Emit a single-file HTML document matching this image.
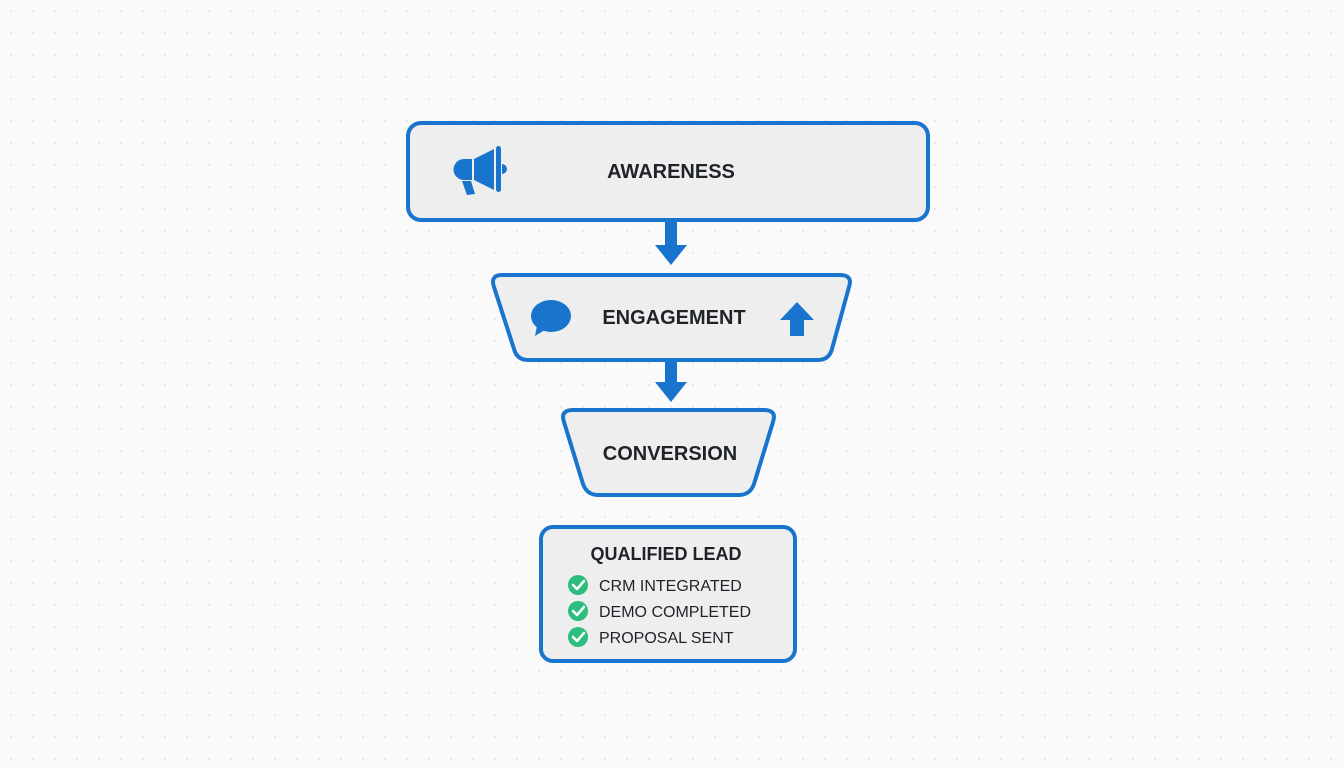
<!DOCTYPE html>
<html><head><meta charset="utf-8"><style>
html,body{margin:0;padding:0;background:#fafafa;}
svg{display:block}
text{font-family:"Liberation Sans",sans-serif;fill:#1f2329}
</style></head><body>
<svg width="1344" height="768" viewBox="0 0 1344 768" xmlns="http://www.w3.org/2000/svg">
<defs>
<pattern id="dots" width="22" height="22" patternUnits="userSpaceOnUse">
<circle cx="11" cy="11" r="1" fill="#e2e2e2"/>
</pattern>
</defs>
<rect width="1344" height="768" fill="#fafafa"/>
<rect width="1344" height="768" fill="url(#dots)"/>

<!-- Awareness -->
<rect x="408" y="123" width="520" height="97" rx="13" fill="#eeeeee" stroke="#1874cd" stroke-width="4"/>
<g fill="#1874cd">
<path d="M464 159 L472 159 L472 180 L464 180 A10.5 10.5 0 0 1 464 159Z"/>
<path d="M474 159 L494 149 L494 190 L474 180Z"/>
<rect x="496" y="146" width="5" height="46" rx="2.5"/>
<path d="M502 164 A5 5 0 0 1 502 174Z"/>
<path d="M462 181 L471 181 L475 194 L467 195Z"/>
</g>
<text x="671" y="178" font-size="20" font-weight="bold" text-anchor="middle">AWARENESS</text>

<!-- Arrow 1 -->
<rect x="665" y="220" width="12" height="26" fill="#1874cd"/>
<path d="M655 245 L687 245 L671 265Z" fill="#1874cd"/>

<!-- Engagement -->
<path d="M502 275 L840 275 Q853 275 849 287 L832 349 Q829 360 818 360 L528 360 Q517 360 514 349 L494 287 Q490 275 502 275Z" fill="#eeeeee" stroke="#1874cd" stroke-width="4"/>
<g fill="#1874cd">
<ellipse cx="551" cy="316" rx="20" ry="16"/>
<path d="M537 326 L535 336 L548 328Z"/>
<path d="M797 302 L814 320 L804 320 L804 336 L790 336 L790 320 L780 320Z"/>
</g>
<text x="674" y="324" font-size="20" font-weight="bold" text-anchor="middle">ENGAGEMENT</text>

<!-- Arrow 2 -->
<rect x="665" y="361" width="12" height="22" fill="#1874cd"/>
<path d="M655 382 L687 382 L671 402Z" fill="#1874cd"/>

<!-- Conversion -->
<path d="M573 410 L764 410 Q777 410 773 422 L754 484 Q750 495 739 495 L598 495 Q587 495 583 484 L564 422 Q560 410 573 410Z" fill="#eeeeee" stroke="#1874cd" stroke-width="4"/>
<text x="670" y="460" font-size="20" font-weight="bold" text-anchor="middle">CONVERSION</text>

<!-- Qualified Lead -->
<rect x="541" y="527" width="254" height="134" rx="12" fill="#eeeeee" stroke="#1874cd" stroke-width="4"/>
<text x="666" y="560" font-size="18" font-weight="bold" text-anchor="middle">QUALIFIED LEAD</text>
<g>
<circle cx="578" cy="585" r="10" fill="#2dbd7e"/>
<path d="M573 585 L577 589 L584 581" stroke="#fff" stroke-width="2.5" fill="none" stroke-linecap="round" stroke-linejoin="round"/>
<circle cx="578" cy="611" r="10" fill="#2dbd7e"/>
<path d="M573 611 L577 615 L584 607" stroke="#fff" stroke-width="2.5" fill="none" stroke-linecap="round" stroke-linejoin="round"/>
<circle cx="578" cy="637" r="10" fill="#2dbd7e"/>
<path d="M573 637 L577 641 L584 633" stroke="#fff" stroke-width="2.5" fill="none" stroke-linecap="round" stroke-linejoin="round"/>
</g>
<text x="599" y="591" font-size="16">CRM INTEGRATED</text>
<text x="599" y="617" font-size="16">DEMO COMPLETED</text>
<text x="599" y="643" font-size="16">PROPOSAL SENT</text>
</svg>
</body></html>
